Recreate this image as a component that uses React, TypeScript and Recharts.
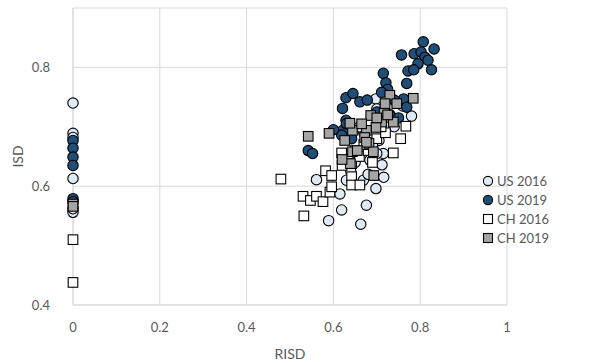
import React from 'react';
import { ScatterChart, Scatter, XAxis, YAxis, CartesianGrid, Label } from 'recharts';

const xTicks = [0, 0.2, 0.4, 0.6, 0.8, 1];
const yTicks = [0.4, 0.6, 0.8];

const us2016 = [
  { x: 0, y: 0.74 }, { x: 0, y: 0.689 }, { x: 0, y: 0.682 }, { x: 0, y: 0.613 }, { x: 0, y: 0.556 }, { x: 0, y: 0.562 },
  { x: 0.561, y: 0.611 }, { x: 0.615, y: 0.587 }, { x: 0.619, y: 0.56 }, { x: 0.589, y: 0.542 }, { x: 0.663, y: 0.536 },
  { x: 0.676, y: 0.568 }, { x: 0.698, y: 0.596 }, { x: 0.716, y: 0.615 }, { x: 0.712, y: 0.636 }, { x: 0.705, y: 0.677 },
  { x: 0.669, y: 0.61 }, { x: 0.684, y: 0.644 }, { x: 0.78, y: 0.718 }, { x: 0.715, y: 0.655 }, { x: 0.698, y: 0.747 },
  { x: 0.73, y: 0.72 }, { x: 0.66, y: 0.66 }, { x: 0.65, y: 0.64 }, { x: 0.67, y: 0.69 }, { x: 0.72, y: 0.7 },
  { x: 0.7, y: 0.73 }, { x: 0.64, y: 0.625 }, { x: 0.68, y: 0.62 }, { x: 0.74, y: 0.7 }, { x: 0.76, y: 0.735 },
  { x: 0.66, y: 0.7 }, { x: 0.69, y: 0.67 }, { x: 0.7, y: 0.655 }, { x: 0.63, y: 0.61 },
];

const us2019 = [
  { x: 0, y: 0.677 }, { x: 0, y: 0.664 }, { x: 0, y: 0.649 }, { x: 0, y: 0.635 }, { x: 0, y: 0.579 }, { x: 0, y: 0.574 },
  { x: 0.807, y: 0.843 }, { x: 0.832, y: 0.831 }, { x: 0.757, y: 0.821 }, { x: 0.786, y: 0.823 }, { x: 0.802, y: 0.826 },
  { x: 0.811, y: 0.817 }, { x: 0.818, y: 0.812 }, { x: 0.795, y: 0.806 }, { x: 0.826, y: 0.796 }, { x: 0.772, y: 0.794 },
  { x: 0.785, y: 0.796 }, { x: 0.715, y: 0.79 }, { x: 0.721, y: 0.774 }, { x: 0.769, y: 0.773 }, { x: 0.725, y: 0.763 },
  { x: 0.711, y: 0.758 }, { x: 0.629, y: 0.749 }, { x: 0.645, y: 0.756 }, { x: 0.661, y: 0.742 }, { x: 0.678, y: 0.745 },
  { x: 0.621, y: 0.731 }, { x: 0.762, y: 0.747 }, { x: 0.629, y: 0.711 }, { x: 0.622, y: 0.694 }, { x: 0.619, y: 0.686 },
  { x: 0.642, y: 0.68 }, { x: 0.542, y: 0.66 }, { x: 0.552, y: 0.655 }, { x: 0.769, y: 0.733 }, { x: 0.6, y: 0.695 },
  { x: 0.63, y: 0.705 }, { x: 0.73, y: 0.72 }, { x: 0.75, y: 0.715 }, { x: 0.7, y: 0.725 }, { x: 0.74, y: 0.745 },
];

const ch2016 = [
  { x: 0, y: 0.51 }, { x: 0, y: 0.438 },
  { x: 0.582, y: 0.626 }, { x: 0.596, y: 0.618 }, { x: 0.53, y: 0.583 }, { x: 0.547, y: 0.576 }, { x: 0.561, y: 0.583 },
  { x: 0.576, y: 0.574 }, { x: 0.592, y: 0.59 }, { x: 0.596, y: 0.599 }, { x: 0.532, y: 0.55 }, { x: 0.642, y: 0.616 },
  { x: 0.642, y: 0.602 }, { x: 0.661, y: 0.602 }, { x: 0.619, y: 0.656 }, { x: 0.755, y: 0.68 }, { x: 0.738, y: 0.656 },
  { x: 0.642, y: 0.638 }, { x: 0.767, y: 0.701 }, { x: 0.479, y: 0.612 }, { x: 0.66, y: 0.65 }, { x: 0.68, y: 0.66 },
  { x: 0.7, y: 0.68 }, { x: 0.67, y: 0.67 }, { x: 0.72, y: 0.69 }, { x: 0.69, y: 0.64 }, { x: 0.65, y: 0.66 },
  { x: 0.71, y: 0.7 }, { x: 0.62, y: 0.635 },
];

const ch2019 = [
  { x: 0, y: 0.57 }, { x: 0, y: 0.566 },
  { x: 0.542, y: 0.684 }, { x: 0.59, y: 0.689 }, { x: 0.644, y: 0.694 }, { x: 0.638, y: 0.706 }, { x: 0.73, y: 0.753 },
  { x: 0.784, y: 0.748 }, { x: 0.686, y: 0.719 }, { x: 0.717, y: 0.725 }, { x: 0.738, y: 0.708 }, { x: 0.711, y: 0.708 },
  { x: 0.719, y: 0.739 }, { x: 0.746, y: 0.739 }, { x: 0.698, y: 0.699 }, { x: 0.676, y: 0.694 }, { x: 0.672, y: 0.682 },
  { x: 0.682, y: 0.672 }, { x: 0.692, y: 0.658 }, { x: 0.644, y: 0.658 }, { x: 0.626, y: 0.677 }, { x: 0.676, y: 0.674 },
  { x: 0.639, y: 0.638 }, { x: 0.693, y: 0.618 }, { x: 0.655, y: 0.66 }, { x: 0.62, y: 0.645 }, { x: 0.7, y: 0.715 },
  { x: 0.725, y: 0.72 }, { x: 0.665, y: 0.705 },
];

const seriesNames = ['US 2016', 'US 2019', 'CH 2016', 'CH 2019'];
const fills = ['#DEEBF7', '#1F4E79', '#FFFFFF', '#A5A5A5'];
const kinds = ['circle', 'circle', 'square', 'square'];

const FONT = 'Lato, "Open Sans", sans-serif';

const makeShape = (kind: string, fill: string) => (props: any) => {
  const { cx, cy } = props;
  if (cx == null || cy == null) return <g />;
  if (kind === 'circle') {
    return <circle cx={cx} cy={cy} r={5.2} fill={fill} stroke="#000" strokeWidth={1.1} />;
  }
  return <rect x={cx - 4.8} y={cy - 4.8} width={9.6} height={9.6} fill={fill} stroke="#000" strokeWidth={1.1} />;
};

const LegendBox = () => (
  <div style={{ position: 'absolute', left: 482, top: 171, fontFamily: FONT, fontSize: 13, color: '#595959' }}>
    {seriesNames.map((n, i) => (
      <div key={n} style={{ display: 'flex', alignItems: 'center', height: 19, whiteSpace: 'nowrap' }}>
        <svg width={12} height={12} style={{ marginRight: 3 }}>
          {kinds[i] === 'circle' ? (
            <circle cx={6} cy={6} r={4.6} fill={fills[i]} stroke="#000" strokeWidth={1.1} />
          ) : (
            <rect x={1.5} y={1.5} width={9} height={9} fill={fills[i]} stroke="#000" strokeWidth={1.1} />
          )}
        </svg>
        <span>{n}</span>
      </div>
    ))}
  </div>
);

export default function App() {
  const datasets = [us2016, us2019, ch2016, ch2019];
  return (
    <div style={{ position: 'absolute', left: 0, top: 0, width: 612, height: 363, background: '#fff', overflow: 'hidden' }}>
      <ScatterChart width={612} height={363} margin={{ top: 8, right: 105, bottom: 0, left: 0 }}>
        <CartesianGrid stroke="#D9D9D9" strokeWidth={1} />
        <XAxis
          type="number"
          dataKey="x"
          domain={[0, 1]}
          ticks={xTicks}
          tickFormatter={(v: number) => String(v)}
          tickLine={false}
          axisLine={{ stroke: '#D9D9D9' }}
          tick={{ fill: '#595959', fontSize: 13, fontFamily: FONT }}
          tickMargin={12}
          height={58}
        >
          <Label value="RISD" position="insideBottom" offset={4} style={{ fill: '#595959', fontSize: 14, fontFamily: FONT }} />
        </XAxis>
        <YAxis
          type="number"
          dataKey="y"
          domain={[0.4, 0.9]}
          ticks={yTicks}
          tickFormatter={(v: number) => String(v)}
          tickLine={false}
          axisLine={{ stroke: '#D9D9D9' }}
          tick={{ fill: '#595959', fontSize: 13, fontFamily: FONT }}
          tickMargin={17}
          width={73}
          allowDataOverflow
        >
          <Label value="ISD" angle={-90} position="insideLeft" offset={18} style={{ fill: '#595959', fontSize: 14, fontFamily: FONT, textAnchor: 'middle' }} />
        </YAxis>
        {datasets.map((d, i) => (
          <Scatter
            key={seriesNames[i]}
            name={seriesNames[i]}
            data={d}
            isAnimationActive={false}
            shape={makeShape(kinds[i], fills[i])}
          />
        ))}
      </ScatterChart>
      <LegendBox />
    </div>
  );
}
